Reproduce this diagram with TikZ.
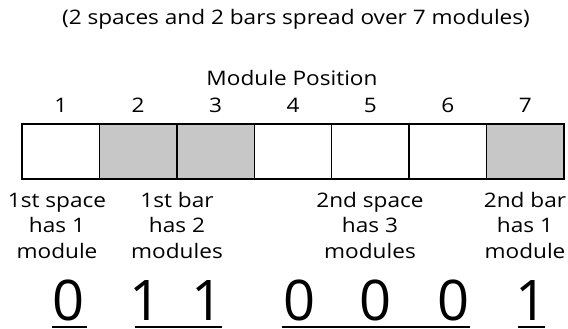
\documentclass[tikz,border=0pt]{standalone}
\usepackage{fontspec}
\setmainfont[FakeStretch=1.13]{Open Sans}
\newfontfamily\digitfont{Open Sans}
\begin{document}
\begin{tikzpicture}[x=1pt,y=-1pt,
  txt/.style={inner sep=0pt,anchor=base,font=\fontsize{20}{25.5}\selectfont},
  lbl/.style={txt,align=center},
  digit/.style={inner sep=0pt,anchor=base,font=\digitfont\fontsize{56}{60}\selectfont},
  cell/.style={draw=black,line width=1.4pt},
  space/.style={cell,fill=white},
  barcell/.style={cell,fill=black!22},
  uline/.style={draw=black,line width=1.4pt}]
\useasboundingbox (0,0) rectangle (568,329);

% headings
\node[txt] (title) at (296,25) {(2 spaces and 2 bars spread over 7 modules)};
\node[txt] (heading) at (292,85) {Module Position};

% module numbers and cells
\foreach \i/\kind in {1/space,2/barcell,3/barcell,4/space,5/space,6/space,7/barcell}{
  \pgfmathsetmacro{\xa}{22+77.43*(\i-1)}
  \pgfmathsetmacro{\xb}{22+77.43*\i}
  \pgfmathsetmacro{\xc}{22+77.43*(\i-0.5)}
  \path[\kind] (\xa,124) rectangle (\xb,179);
  \node[txt] (n\i) at (\xc,113) {\i};
}

% element labels (anchored at the baseline of their last line)
\node[lbl] (s1) at (57,258) {1st space\\has 1\\module};
\node[lbl] (b1) at (177,258) {1st bar\\has 2\\modules};
\node[lbl] (s2) at (370,258) {2nd space\\has 3\\modules};
\node[lbl] (b2) at (525,258) {2nd bar\\has 1\\module};

% binary digits
\node[digit] (d1) at (69,320) {0};
\node[digit] (d2) at (146,320) {1};
\node[digit] (d3) at (208,320) {1};
\node[digit] (d4) at (300,320) {0};
\node[digit] (d5) at (376,320) {0};
\node[digit] (d6) at (454,320) {0};
\node[digit] (d7) at (532,320) {1};

% underlines grouping the digits of each element
\path[uline] (52,327) -- (87,327);
\path[uline] (135,327) -- (222,327);
\path[uline] (282,327) -- (470,327);
\path[uline] (518,327) -- (545,327);
\end{tikzpicture}
\end{document}
